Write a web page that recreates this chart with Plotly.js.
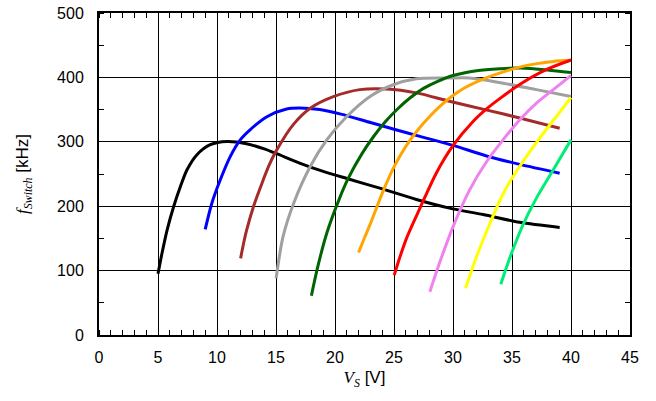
<!DOCTYPE html>
<html>
<head>
<meta charset="utf-8">
<script src="https://cdn.plot.ly/plotly-3.0.1.min.js"></script>
<style>html,body{margin:0;padding:0;background:#fff;}#chart{width:656px;height:401px;}</style>
</head>
<body>
<div id="chart"></div>
<script>
// Series data (x: V_S [V], y: f_Switch [kHz])
const blackX = [5.0, 5.34, 5.77, 6.33, 6.9, 7.46, 8.3, 9.43, 10.84, 12.5, 14.0, 15.0, 17.0, 19.0, 21.0, 23.8, 26.9, 29.7, 32.55, 35.65, 39.04];
const blackY = [95, 127, 163, 199.5, 230.5, 256.5, 280, 295.5, 300.6, 297, 289, 282, 267, 254, 243, 228, 210.5, 197, 187, 175, 167];
const blueX = [9.0, 9.57, 10.28, 11.12, 11.97, 12.8, 14.23, 15.9, 17.0, 18.7, 20.5, 23.0, 25.0, 27.2, 30.0, 32.84, 35.65, 39.04];
const blueY = [164, 205, 241, 277, 303, 318.6, 339, 351, 352.5, 350, 343, 330, 319.5, 308.5, 294.5, 278, 265, 251.3];
const brownX = [12.0, 12.25, 12.5, 13.1, 13.9, 14.37, 15.07, 16.48, 17.9, 19.86, 22.1, 24.4, 26.9, 29.7, 32.7, 35.65, 39.04];
const brownY = [119, 142, 162, 200, 240, 262, 287.5, 327, 352, 370, 381, 382, 376, 363, 350, 337, 321];
const grayX = [15.01, 15.6, 16.5, 17.9, 19.3, 21.0, 22.97, 24.94, 26.9, 29.7, 31.4, 34.24, 37.07, 40.0];
const grayY = [88, 153, 204.7, 261.6, 303, 339.3, 370.4, 388.6, 397.9, 399, 399, 391, 381, 370.4];
const dgreenX = [18.0, 18.5, 19.3, 20.4, 21.13, 22.3, 23.3, 24.3, 25.3, 26.35, 27.5, 28.7, 30.0, 32.0, 34.0, 35.7, 38.0, 40.0];
const dgreenY = [61, 103, 158, 213, 243.5, 282, 309, 332, 351, 368, 383, 394, 403, 410.5, 413.5, 414.5, 411.5, 407.5];
const orangeX = [22.0, 22.5, 23.0, 24.0, 25.0, 26.0, 27.0, 28.0, 29.0, 30.0, 31.0, 32.5, 34.0, 35.65, 37.0, 38.5, 40.0];
const orangeY = [128, 151, 173, 220, 261, 293, 318, 339, 357, 372, 384, 397, 407, 416, 421, 424.8, 426.5];
const redX = [25.02, 25.5, 26.1, 27.2, 28.6, 30.0, 31.7, 32.84, 33.96, 35.65, 37.9, 40.0];
const redY = [93, 121, 152, 197, 252, 294, 331.5, 351, 367, 389, 412, 427];
const violetX = [28.04, 28.9, 30.0, 31.4, 32.84, 34.24, 35.65, 37.07, 38.5, 40.0];
const violetY = [67.3, 114, 168, 225, 269, 303, 334, 360, 381, 403];
const yellowX = [31.06, 32.0, 33.1, 34.0, 34.5, 35.93, 37.35, 38.76, 40.0];
const yellowY = [72.6, 122, 172, 210, 228, 269.4, 305.7, 339.3, 368.8];
const sgreenX = [34.05, 34.8, 35.93, 37.07, 38.5, 40.0];
const sgreenY = [78.8, 119, 171, 212.5, 256.5, 303];

const series = [
  [blackX, blackY, '#000000'],
  [blueX, blueY, '#0000ff'],
  [brownX, brownY, '#a52a2a'],
  [grayX, grayY, '#a0a0a0'],
  [dgreenX, dgreenY, '#006400'],
  [orangeX, orangeY, '#ffa500'],
  [redX, redY, '#ff0000'],
  [violetX, violetY, '#ee82ee'],
  [yellowX, yellowY, '#ffff00'],
  [sgreenX, sgreenY, '#00ee77']
];

const traces = series.map(s => ({
  x: s[0], y: s[1], type: 'scatter', mode: 'lines',
  line: {color: s[2], width: 3, shape: 'spline', smoothing: 0.8},
  hoverinfo: 'skip', showlegend: false
}));

const tickFont = {family: 'Liberation Sans, Arial, sans-serif', size: 16, color: 'black'};
const titleFont = {family: 'Liberation Sans, Arial, sans-serif', size: 17, color: 'black'};

const layout = {
  width: 656, height: 401,
  margin: {l: 98.5, r: 25.5, t: 13.3, b: 66},
  paper_bgcolor: 'white', plot_bgcolor: 'white',
  showlegend: false,
  xaxis: {
    range: [0, 45], dtick: 5,
    // transparent outside major ticks only space the labels; the grid marks the major positions
    ticks: 'outside', ticklen: 7, tickcolor: 'rgba(0,0,0,0)',
    showline: true, linecolor: 'black', linewidth: 2, mirror: 'allticks', zeroline: false,
    showgrid: true, gridcolor: 'black', gridwidth: 1,
    tickfont: tickFont,
    minor: {dtick: 1, ticks: 'inside', ticklen: 5, tickcolor: 'black', showgrid: false},
    title: {text: '<span style="font-family:Liberation Serif"><i>V</i><sub><i>S</i></sub></span> [V]',
            font: titleFont, standoff: 6}
  },
  yaxis: {
    range: [0, 500], dtick: 100,
    ticks: 'outside', ticklen: 10, tickcolor: 'rgba(0,0,0,0)',
    showline: true, linecolor: 'black', linewidth: 2, mirror: 'allticks', zeroline: false,
    showgrid: true, gridcolor: 'black', gridwidth: 1,
    tickfont: tickFont,
    minor: {dtick: 50, ticks: 'inside', ticklen: 5, tickcolor: 'black', showgrid: false},
    title: {text: '<span style="font-family:Liberation Serif"><i>f</i><sub><i>Switch</i></sub></span> [kHz]',
            font: titleFont, standoff: 24}
  }
};

Plotly.newPlot('chart', traces, layout, {displayModeBar: false, staticPlot: true});
</script>
</body>
</html>
